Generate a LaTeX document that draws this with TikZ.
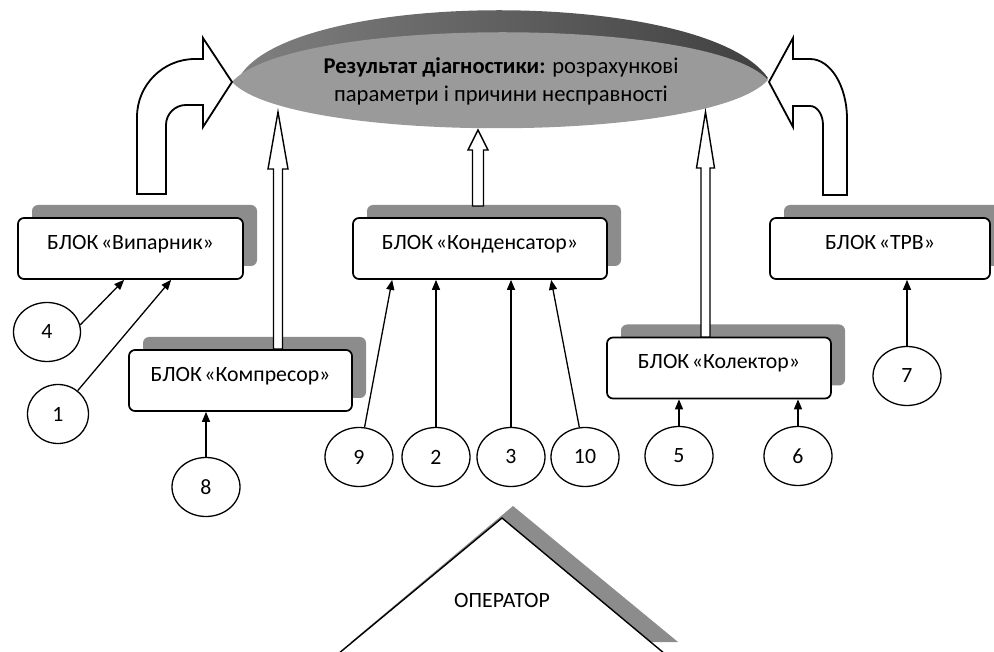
\documentclass[tikz,border=0pt]{standalone}
\usepackage{fontspec}
\setmainfont{Carlito}
\usetikzlibrary{arrows.meta,shapes.geometric,calc,shadows}
\definecolor{shd}{HTML}{8C8C8C}
\definecolor{body}{HTML}{9A9A9A}
\newcommand\hollowup[6]{% x, ybottom, ytip, shaft half, head half, head length
  \draw[hollow] (#1-#4,#2) -- (#1-#4,#3+#6) -- (#1-#5,#3+#6) -- (#1,#3) -- (#1+#5,#3+#6) -- (#1+#4,#3+#6) -- (#1+#4,#2) -- cycle;}
\newcommand\blk[1]{БЛОК\hspace{0.12em}«#1»}
\begin{document}
\begin{tikzpicture}[x=1pt,y=-1pt,
  txt/.style={font=\fontsize{21.8}{26}\selectfont},
  box/.style={txt, draw=black, line width=1.7pt, rounded corners=6pt, fill=white,
    minimum width=#1, minimum height=61pt, inner sep=0pt, text height=13pt, text depth=11pt,
    general shadow={fill=shd, shadow xshift=14pt, shadow yshift=13pt}},
  ell/.style={txt, ellipse, draw=black, line width=1.3pt, fill=white, minimum width=68pt, minimum height=59pt, inner sep=0pt},
  conn/.style={line width=1.3pt, -{Triangle[width=8pt,length=10pt]}},
  hollow/.style={line width=1.4pt, fill=white, line join=miter},
  bigarrow/.style={line width=1.8pt, fill=white, line join=miter}
]
\path[use as bounding box] (0,0) rectangle (994,652);
\clip (0,0) rectangle (994,652);

% result ellipse
\shade[left color=black!50, right color=black!75]
  (240,76) .. controls (295,-12) and (705,-12) .. (768,78)
  .. controls (710,130) and (290,130) .. (240,76) -- cycle;
\fill[body] (232,82) .. controls (290,16) and (710,16) .. (768,80)
  .. controls (710,144) and (290,144) .. (232,82) -- cycle;
\node[font=\fontsize{22.6}{28}\selectfont, align=center] (res) at (501,81)
  {\textbf{Результат діагностики:} розрахункові\\параметри і причини несправності};

% blocks
\node[box=225pt] (vip)  at (130.5,248.5) {\blk{Випарник}};
\node[box=223pt] (komp) at (240.5,380.5) {\blk{Компресор}};
\node[box=254pt] (kond) at (480,248.5)   {\blk{Конденсатор}};
\node[box=224pt] (kol)  at (719,368)     {\blk{Колектор}};
\node[box=220pt] (trv)  at (880,248.5)   {\blk{ТРВ}};

% hollow straight arrows
\hollowup{278}{349}{112}{4.5}{10}{57}
\hollowup{478}{206}{130}{5.5}{10}{20}
\hollowup{705.5}{337}{112}{4.5}{9}{56}

% curved hollow arrows
\draw[bigarrow] (137,194) -- (137,117) arc[start angle=180, end angle=270, x radius=58, y radius=58]
  -- (203,59) -- (203,38) -- (232,82) -- (203,127) -- (203,105) -- (186,105)
  arc[start angle=270, end angle=180, radius=20] -- (166,194) -- cycle;
\draw[bigarrow] (847,195) -- (847,119) arc[start angle=0, end angle=-90, x radius=37, y radius=60]
  -- (793,59) -- (793,38) -- (769,82) -- (793,127) -- (793,106) -- (810,106)
  arc[start angle=-90, end angle=0, x radius=13, y radius=19] -- (823,195) -- cycle;

% parameter circles
\node[ell, minimum width=67pt] (c4) at (47,332) {4};
\node[ell, minimum width=61pt] (c1) at (58,414) {1};
\node[ell] (c8) at (206,487) {8};
\node[ell] (c9) at (359,457) {9};
\node[ell] (c2) at (436,457) {2};
\node[ell] (c3) at (511,457) {3};
\node[ell] (c10) at (585,457) {10};
\node[ell] (c5) at (679,456) {5};
\node[ell] (c6) at (798,456) {6};
\node[ell] (c7) at (907,376) {7};

% connectors
\draw[conn] (c4.12) -- ($(vip.south west)+(107,0)$);
\draw[conn] (c1) -- ($(vip.south west)+(154,0)$);
\draw[conn] (c8) -- (c8 |- komp.south);
\draw[conn] (c9) -- ($(kond.south west)+(40,0)$);
\draw[conn] (c2) -- (c2 |- kond.south);
\draw[conn] (c3) -- (c3 |- kond.south);
\draw[conn] (c10) -- ($(kond.south west)+(199,0)$);
\draw[conn] (c5) -- (c5 |- kol.south);
\draw[conn] (c6) -- (c6 |- kol.south);
\draw[conn] (c7) -- (c7 |- trv.south);

% operator
\fill[shd] (513,506) -- (351,642) -- (678,642) -- cycle;
\draw[line width=1.4pt, fill=white] (502,518) -- (338,654) -- (665,654) -- cycle;
\node[txt] (op) at (502,600) {ОПЕРАТОР};
\end{tikzpicture}
\end{document}
